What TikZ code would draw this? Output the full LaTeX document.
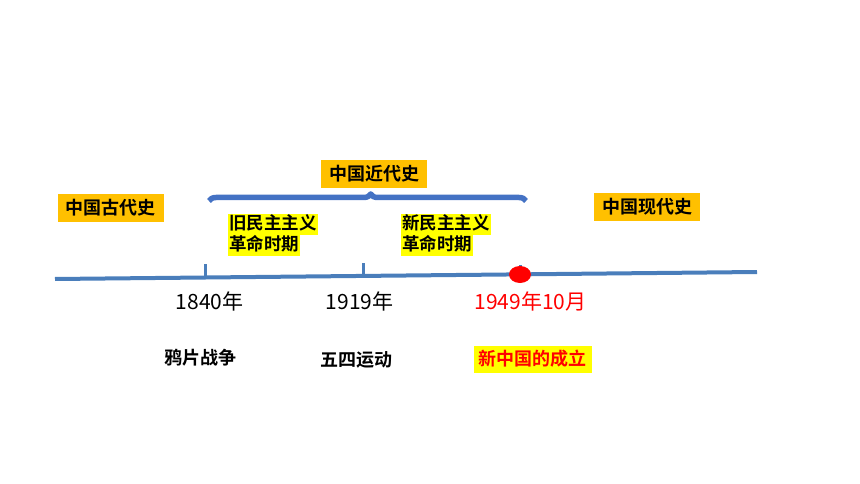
\documentclass[tikz,border=0pt]{standalone}
\usepackage{fontspec}
\setmainfont{Noto Sans CJK SC}
\newfontfamily\cjkb{Noto Sans CJK SC Bold}
\usetikzlibrary{positioning,decorations.pathreplacing}
\definecolor{axisblue}{HTML}{4A7EBB}
\definecolor{braceblue}{HTML}{4472C4}
\definecolor{tagorange}{HTML}{FFC000}
\definecolor{hlyellow}{HTML}{FFFF00}
\tikzset{
  era/.style={fill=tagorange, font=\fontsize{18}{18}\cjkb, minimum height=28pt, inner xsep=8pt, inner ysep=0pt},
  phase/.style={fill=hlyellow, font=\fontsize{17.5}{17.5}\cjkb, anchor=north west, inner xsep=1pt, inner ysep=0pt, text height=15.5pt, text depth=5pt},
  year/.style={font=\fontsize{21}{21}\selectfont},
  event/.style={font=\fontsize{18}{18}\cjkb},
}
\begin{document}
\begin{tikzpicture}[x=1pt, y=-1pt, line join=round]
	\useasboundingbox (0,0) rectangle (860,484);
	\coordinate (axL) at (55,279); \coordinate (axR) at (757,272);
	\coordinate (t1) at (205,277.5); \coordinate (t1u) at (205,264);
	\coordinate (t2) at (363,276); \coordinate (t2u) at (363,263);
	\coordinate (t3) at (520,274.5); \coordinate (t3u) at (520,265);
	\coordinate (bL) at (209,201); \coordinate (bR) at (526,201);
	\draw[axisblue, line width=4pt] (axL)--(axR);
	\draw[axisblue, line width=3pt] (t1)--(t1u) (t2)--(t2u) (t3)--(t3u);
	\fill[red] (t3) ellipse (11 and 8.5);
	\draw[braceblue, line width=5.5pt, decorate, decoration={brace, amplitude=7pt, aspect=0.51}] (bL)--(bR);
	\node[era] (modern) at (374,174) {中国近代史};
	\node[era] (ancient) at (110.5,208) {中国古代史};
	\node[era] (recent) at (647,207) {中国现代史};
	\node[phase] (old1) at (228,214) {旧民主主义};
	\node[phase] (old2) at (old1.south west) {革命时期};
	\node[phase] (new1) at (401,214) {新民主主义};
	\node[phase] (new2) at (new1.south west) {革命时期};
	\node[year] (y1840) at (209.5,301) {1840年};
	\node[year] (y1919) at (359.5,301) {1919年};
	\node[year, red] (y1949) at (530.5,301) {1949年10月};
	\node[event] (war) at (200.5,358) {鸦片战争};
	\node[event] (may4) at (356,360) {五四运动};
	\node[event, red, fill=hlyellow, minimum height=27pt, inner xsep=5pt, inner ysep=0pt] (prc) at (532.5,359) {新中国的成立};
\end{tikzpicture}
\end{document}
